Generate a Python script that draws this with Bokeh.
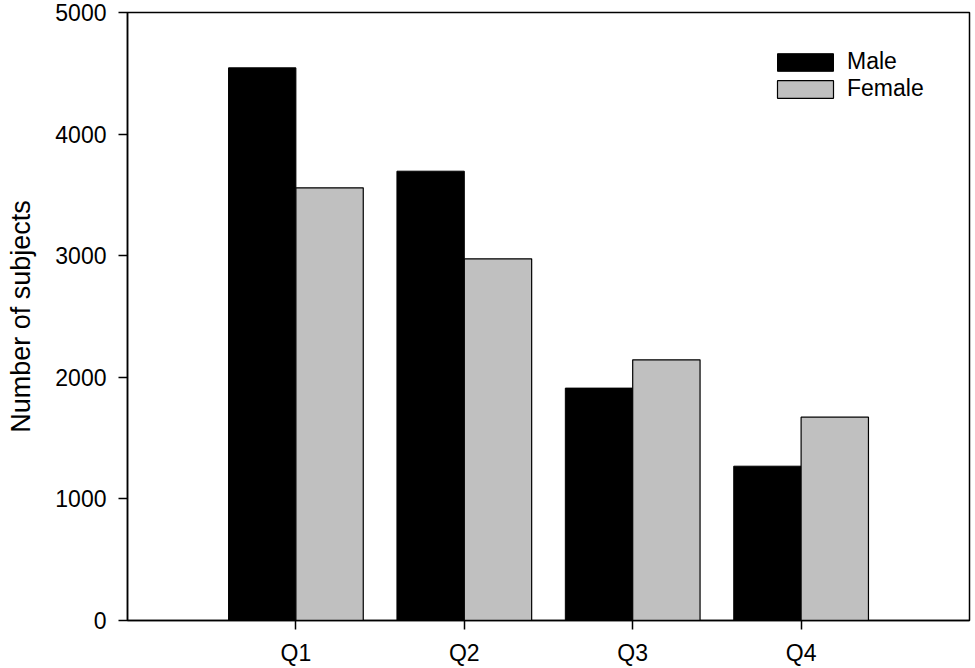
from bokeh.plotting import figure
from bokeh.models import ColumnDataSource, FactorRange, Range1d, Legend, LegendItem, FixedTicker
from bokeh.transform import dodge
from bokeh.embed import file_html
from bokeh.resources import INLINE

quartiles = ["Q1", "Q2", "Q3", "Q4"]
male = [4545, 3695, 1911, 1269]
female = [3558, 2974, 2144, 1672]
y_ticks = [0, 1000, 2000, 3000, 4000, 5000]

src = ColumnDataSource(dict(q=quartiles, male=male, female=female))

p = figure(width=975, height=668, output_backend="svg", toolbar_location=None,
           x_range=FactorRange(factors=quartiles, range_padding=0.5, range_padding_units="absolute"),
           y_range=Range1d(0, 5000),
           min_border_left=127, min_border_right=6, min_border_top=12, min_border_bottom=48)

r1 = p.vbar(x=dodge("q", -0.2, range=p.x_range), top="male", width=0.4, source=src,
            fill_color="black", line_color="black", line_width=1)
r2 = p.vbar(x=dodge("q", 0.2, range=p.x_range), top="female", width=0.4, source=src,
            fill_color="#c0c0c0", line_color="black", line_width=1.2)

p.xgrid.visible = False
p.ygrid.visible = False
p.outline_line_color = "black"
p.outline_line_width = 1.5
p.outline_line_alpha = 1

font = "Liberation Sans"
for ax in (p.xaxis[0], p.yaxis[0]):
    ax.axis_line_width = 1.5
    ax.major_tick_line_width = 1.5
    ax.minor_tick_line_color = None
    ax.major_tick_in = 0
    ax.major_tick_out = 9
    ax.major_label_text_font = font
    ax.major_label_text_font_size = "23px"
    ax.major_label_text_color = "black"
    ax.axis_line_color = "black"
    ax.major_tick_line_color = "black"

p.xaxis.major_label_standoff = 10
p.yaxis.major_label_standoff = 12
p.yaxis.ticker = FixedTicker(ticks=y_ticks)
p.yaxis.axis_label = "Number of subjects"
p.yaxis.axis_label_text_font = font
p.yaxis.axis_label_text_font_size = "27px"
p.yaxis.axis_label_text_font_style = "normal"
p.yaxis.axis_label_text_color = "black"
p.yaxis.axis_label_standoff = 16

legend = Legend(items=[LegendItem(label="Male", renderers=[r1]),
                       LegendItem(label="Female", renderers=[r2])],
                location=(643, 518), padding=0, margin=0, spacing=0,
                glyph_width=70, glyph_height=22, label_height=26, label_standoff=7,
                label_text_font=font, label_text_font_size="23px",
                label_text_color="black",
                border_line_color=None, background_fill_alpha=0)
p.add_layout(legend)

open("out.html", "w").write(file_html(p, INLINE))
